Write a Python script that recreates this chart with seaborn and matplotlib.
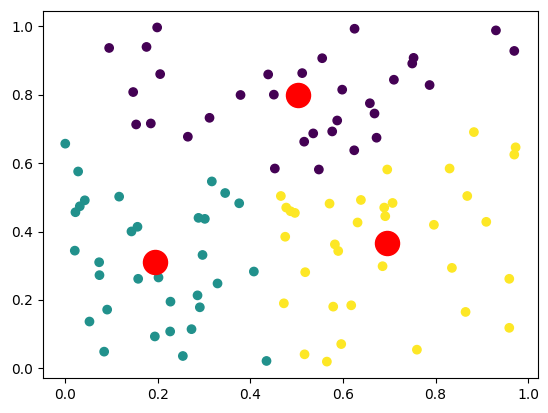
import matplotlib
matplotlib.use("Agg")
import matplotlib.pyplot as plt
import numpy as np
import pandas as pd
import seaborn as sns

# cluster 0 (purple)
x0 = [0.1985, 0.0948, 0.1755, 0.205, 0.1467, 0.4383, 0.3786, 0.4506, 0.1531, 0.1848,
      0.3116, 0.2648, 0.4527, 0.6249, 0.9303, 0.9699, 0.555, 0.7524, 0.7495, 0.5118,
      0.7099, 0.787, 0.5982, 0.658, 0.668, 0.5874, 0.5356, 0.5766, 0.5161, 0.6724,
      0.6242, 0.5478]
y0 = [0.997, 0.937, 0.940, 0.8605, 0.808, 0.8595, 0.7994, 0.8004, 0.7132, 0.7161,
      0.7326, 0.6773, 0.5843, 0.9932, 0.9884, 0.9283, 0.907, 0.908, 0.8915, 0.8634,
      0.844, 0.8285, 0.815, 0.7752, 0.7452, 0.7248, 0.687, 0.6928, 0.6628, 0.6744,
      0.6376, 0.5814]

# cluster 1 (teal)
x1 = [0.0, 0.0278, 0.3166, 0.3454, 0.3757, 0.0422, 0.0314, 0.022, 0.1164, 0.156,
      0.143, 0.2878, 0.3015, 0.0206, 0.0732, 0.0739, 0.1575, 0.2014, 0.2965, 0.4074,
      0.3289, 0.2857, 0.2907, 0.2273, 0.0905, 0.0523, 0.1935, 0.2266, 0.2727, 0.084,
      0.254, 0.4347]
y1 = [0.657, 0.5756, 0.5465, 0.5126, 0.4826, 0.4913, 0.4738, 0.4564, 0.502, 0.4138,
      0.4002, 0.4399, 0.437, 0.344, 0.3101, 0.2723, 0.2616, 0.2655, 0.3314, 0.2829,
      0.248, 0.2132, 0.1783, 0.1948, 0.1715, 0.1366, 0.093, 0.1076, 0.1143, 0.0485,
      0.0358, 0.0213]

# cluster 2 (yellow)
x2 = [0.8827, 0.9728, 0.9699, 0.6955, 0.8302, 0.4657, 0.4773, 0.4751, 0.4722, 0.4867,
      0.496, 0.5709, 0.6386, 0.689, 0.707, 0.6912, 0.6314, 0.7963, 0.8683, 0.9094,
      0.5824, 0.5896, 0.6854, 0.8352, 0.9591, 0.5183, 0.5788, 0.6177, 0.8647, 0.9591,
      0.5961, 0.7596, 0.5169, 0.5651]
y2 = [0.6909, 0.6463, 0.625, 0.5814, 0.5843, 0.5039, 0.47, 0.3847, 0.1899, 0.4593,
      0.4544, 0.4816, 0.4923, 0.47, 0.4835, 0.4448, 0.4264, 0.4196, 0.5039, 0.4283,
      0.3624, 0.343, 0.2985, 0.2936, 0.2616, 0.281, 0.1802, 0.1841, 0.1647, 0.1182,
      0.0707, 0.0543, 0.0407, 0.0194]

# cluster centres
cx = [0.5024, 0.1935, 0.6947]
cy = [0.7985, 0.311, 0.3653]

df = pd.DataFrame({
    "x": x0 + x1 + x2,
    "y": y0 + y1 + y2,
    "label": [0] * len(x0) + [1] * len(x1) + [2] * len(x2),
})

fig = plt.figure(figsize=(5.48, 4.13), dpi=100)
ax = fig.add_axes([0.078, 0.084, 0.904, 0.89])

sns.scatterplot(data=df, x="x", y="y", hue="label",
                palette=["#440154", "#21918c", "#fde725"],
                s=36, edgecolor="face", linewidth=1, legend=False, ax=ax)
sns.scatterplot(x=cx, y=cy, color="red", s=300, edgecolor="face",
                linewidth=1, legend=False, ax=ax)
ax.set_xlabel("")
ax.set_ylabel("")

fig.savefig("out.png", dpi=100)
